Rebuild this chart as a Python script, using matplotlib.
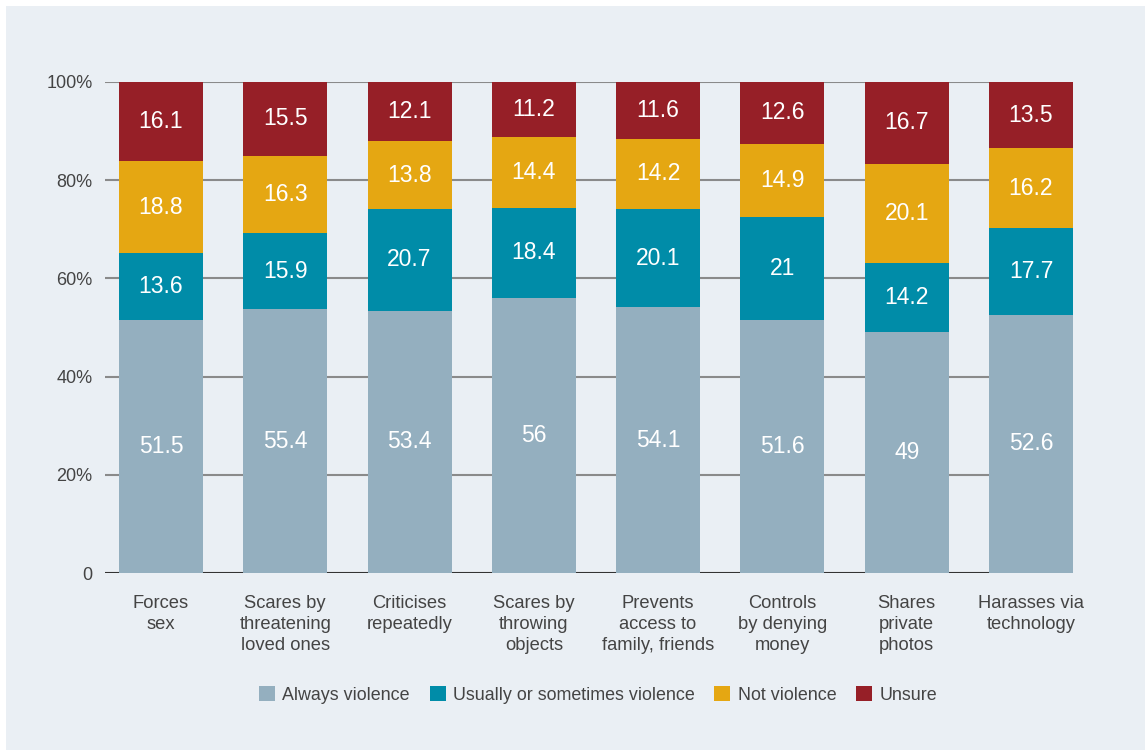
import matplotlib
matplotlib.use("Agg")
import matplotlib.pyplot as plt
from matplotlib.patches import Rectangle
import numpy as np

categories = ["Forces\nsex", "Scares by\nthreatening\nloved ones", "Criticises\nrepeatedly",
              "Scares by\nthrowing\nobjects", "Prevents\naccess to\nfamily, friends",
              "Controls\nby denying\nmoney", "Shares\nprivate\nphotos", "Harasses via\ntechnology"]
always = [51.5, 55.4, 53.4, 56, 54.1, 51.6, 49, 52.6]
usually = [13.6, 15.9, 20.7, 18.4, 20.1, 21, 14.2, 17.7]
notviol = [18.8, 16.3, 13.8, 14.4, 14.2, 14.9, 20.1, 16.2]
unsure = [16.1, 15.5, 12.1, 11.2, 11.6, 12.6, 16.7, 13.5]
series_names = ["Always violence", "Usually or sometimes violence", "Not violence", "Unsure"]
colors = ["#94AFBF", "#008CA8", "#E5A712", "#961F27"]
yticks = [0, 20, 40, 60, 80, 100]
ytick_labels = ["0", "20%", "40%", "60%", "80%", "100%"]

plt.rcParams['font.family'] = ['Liberation Sans', 'DejaVu Sans']

fig = plt.figure(figsize=(11.45, 7.5), dpi=100)
fig.patch.set_facecolor("white")
fig.patches.append(Rectangle((6/1145, 0), 1 - 6/1145, 1 - 6/750, transform=fig.transFigure,
                             facecolor="#EAEFF4", edgecolor="none", zorder=-10))

ax = fig.add_axes([105/1145, 1 - 573/750, (1073 - 105)/1145, (573 - 82)/750])
ax.set_facecolor("none")

x = np.arange(len(categories))
width = 0.676
data = np.array([always, usually, notviol, unsure], dtype=float)
totals = data.sum(axis=0)
shares = data / totals * 100  # percent-stacked
bottom = np.zeros(len(categories))
for raw, share, name, c in zip(data, shares, series_names, colors):
    ax.bar(x, share, width, bottom=bottom, color=c, label=name, zorder=3, linewidth=0)
    for xi, b, s, v in zip(x, bottom, share, raw):
        ax.text(xi, b + s / 2, f"{v:g}", ha="center", va="center", color="white",
                fontsize=16.5, zorder=4)
    bottom += share

ax.set_xlim(-0.45, 7.338)
ax.set_ylim(0, 100)
ax.set_yticks(yticks)
ax.set_yticklabels(ytick_labels, fontsize=13, color="#444444")
for t in yticks[1:]:
    ax.axhline(t, color="#8A8A8A", linewidth=1.5, zorder=1)
ax.axhline(0, color="#333333", linewidth=1.5, zorder=2)
ax.tick_params(axis="y", length=0, pad=9)
ax.set_xticks(x)
ax.set_xticklabels(categories, fontsize=13.2, color="#444444", linespacing=1.3, va="top")
ax.tick_params(axis="x", length=0, pad=16)
for s in ax.spines.values():
    s.set_visible(False)

handles, labels = ax.get_legend_handles_labels()
leg = fig.legend(handles, labels, loc="center", bbox_to_anchor=(598/1145, 1 - 695/750),
                 ncol=4, frameon=False, fontsize=12.9, handlelength=0.9, handleheight=0.9,
                 handletextpad=0.4, columnspacing=1.1)
for t in leg.get_texts():
    t.set_color("#444444")

fig.savefig("out.png", dpi=100, facecolor=fig.get_facecolor())
